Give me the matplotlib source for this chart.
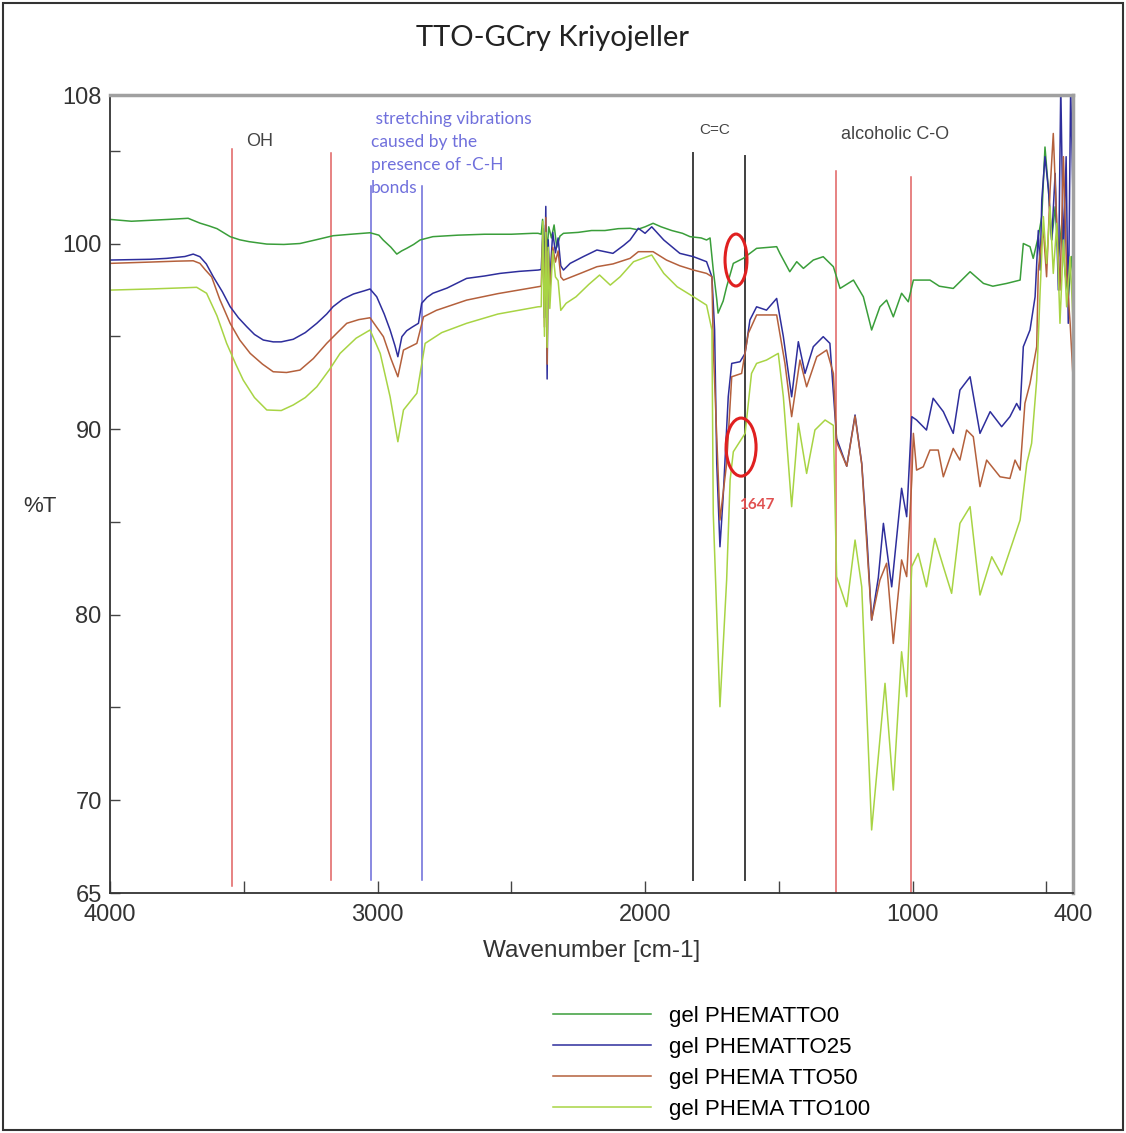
import matplotlib
matplotlib.use("Agg")
import matplotlib.pyplot as plt
from matplotlib.patches import Ellipse, Rectangle

# --- veriler (dalga sayisi cm-1, %T) ---
wn_tto0 = [4000, 3920, 3850, 3780, 3708, 3664, 3630, 3600, 3551, 3515, 3480, 3414, 3350, 3290,
           3230, 3166, 3100, 3028, 2995, 2979, 2950, 2928, 2910, 2891, 2865, 2841, 2793, 2700,
           2600, 2500, 2419, 2400, 2388, 2383, 2378, 2372, 2366, 2360, 2350, 2340, 2330, 2318,
           2305, 2250, 2200, 2150, 2100, 2056, 2030, 2000, 1970, 1940, 1900, 1860, 1832, 1790,
           1770, 1757, 1745, 1732, 1727, 1708, 1695, 1670, 1633, 1583, 1508, 1496, 1459, 1433,
           1408, 1371, 1334, 1296, 1271, 1221, 1184, 1153, 1122, 1097, 1072, 1041, 1016, 997,
           935, 900, 848, 785, 735, 700, 648, 598, 586, 561, 549, 530, 517, 505, 492, 480, 467,
           455, 442, 430, 418, 405, 400]
t_tto0 = [101.3, 101.2, 101.25, 101.3, 101.36, 101.1, 100.95, 100.8, 100.37, 100.2, 100.1, 99.97,
          99.95, 100.0, 100.2, 100.42, 100.5, 100.58, 100.45, 100.19, 99.8, 99.43, 99.6, 99.74,
          99.95, 100.19, 100.37, 100.45, 100.5, 100.5, 100.55, 100.55, 100.5, 101.3, 99.0, 101.0,
          99.6, 100.9, 100.3, 101.0, 99.8, 100.4, 100.55, 100.6, 100.7, 100.7, 100.8, 100.82,
          100.75, 100.9, 101.09, 100.9, 100.7, 100.55, 100.37, 100.3, 100.19, 100.3, 98.57, 97.0,
          96.25, 96.9, 97.67, 98.93, 99.2, 99.74, 99.83, 99.47, 98.48, 99.02, 98.66, 99.11, 99.29,
          98.75, 97.58, 98.03, 97.13, 95.34, 96.59, 96.95, 96.05, 97.32, 96.86, 98.03, 98.03,
          97.7, 97.58, 98.48, 97.85, 97.7, 97.85, 98.03, 100.0, 99.83, 99.2, 100.37, 101.45,
          105.2, 102.88, 100.19, 101.98, 99.29, 101.09, 98.39, 97.13, 99.3, 98.21]

wn_tto25 = [4000, 3850, 3788, 3720, 3689, 3664, 3640, 3614, 3580, 3551, 3520, 3489, 3460, 3427,
            3390, 3360, 3315, 3270, 3227, 3190, 3166, 3130, 3090, 3050, 3028, 3003, 2975, 2953,
            2935, 2924, 2909, 2891, 2870, 2847, 2835, 2815, 2793, 2740, 2667, 2600, 2542, 2470,
            2400, 2388, 2382, 2376, 2371, 2366, 2362, 2356, 2345, 2335, 2325, 2315, 2305, 2280,
            2230, 2180, 2120, 2080, 2056, 2025, 2000, 1975, 1930, 1870, 1819, 1770, 1750, 1740,
            1732, 1720, 1708, 1689, 1676, 1645, 1626, 1608, 1583, 1546, 1508, 1483, 1452, 1427,
            1402, 1371, 1334, 1309, 1284, 1246, 1215, 1190, 1170, 1153, 1128, 1109, 1078, 1041,
            1022, 1003, 985, 948, 923, 885, 848, 823, 785, 748, 710, 667, 636, 611, 598, 586, 561,
            542, 530, 523, 517, 505, 492, 480, 467, 455, 446, 436, 426, 418, 409, 401, 400]
t_tto25 = [99.11, 99.15, 99.2, 99.3, 99.43, 99.29, 98.9, 98.21, 97.4, 96.6, 96.0, 95.52, 95.1,
           94.8, 94.7, 94.7, 94.84, 95.2, 95.7, 96.2, 96.6, 97.0, 97.28, 97.45, 97.55, 97.13,
           96.2, 95.34, 94.5, 93.9, 94.98, 95.3, 95.5, 95.7, 96.78, 97.1, 97.32, 97.6, 98.12,
           98.25, 98.39, 98.5, 98.57, 98.6, 100.8, 96.0, 102.0, 92.7, 100.2, 98.0, 100.6, 99.5,
           100.3, 98.8, 98.57, 98.93, 99.3, 99.65, 99.47, 99.9, 100.19, 100.82, 100.55, 100.9,
           100.19, 99.47, 99.29, 99.02, 98.2, 95.34, 88.15, 83.66, 86.35, 91.74, 93.54, 93.63,
           94.08, 95.88, 96.59, 96.41, 97.04, 94.98, 91.74, 94.71, 93.0, 94.44, 94.98, 94.62,
           89.5, 88.0, 90.76, 88.15, 84.0, 79.71, 82.0, 84.92, 81.5, 86.81, 85.28, 90.67, 90.49,
           89.95, 91.66, 90.94, 89.77, 92.1, 92.82, 89.77, 90.94, 90.13, 90.67, 91.38, 91.03,
           94.44, 95.34, 97.13, 100.7, 98.57, 102.34, 104.68, 102.9, 100.19, 103.78, 97.49,
           108.5, 99.29, 104.68, 95.7, 108.5, 102.88, 103.0]

wn_tto50 = [4000, 3850, 3750, 3689, 3664, 3645, 3620, 3590, 3551, 3515, 3476, 3430, 3390, 3340,
            3290, 3240, 3190, 3150, 3115, 3070, 3028, 2978, 2950, 2924, 2903, 2853, 2828, 2780,
            2667, 2550, 2400, 2388, 2382, 2376, 2371, 2366, 2362, 2356, 2345, 2335, 2325, 2315,
            2305, 2240, 2180, 2120, 2056, 2025, 1970, 1920, 1870, 1819, 1770, 1750, 1745, 1720,
            1695, 1676, 1639, 1614, 1583, 1508, 1477, 1452, 1421, 1396, 1358, 1321, 1296, 1284,
            1246, 1215, 1190, 1153, 1122, 1097, 1072, 1041, 1022, 1003, 997, 985, 960, 935, 904,
            885, 848, 823, 798, 773, 748, 723, 673, 636, 617, 598, 580, 561, 536, 530, 523, 511,
            499, 486, 474, 461, 449, 436, 424, 411, 401, 400]
t_tto50 = [98.93, 99.0, 99.05, 99.07, 98.93, 98.6, 98.2, 97.0, 95.7, 94.8, 94.08, 93.5, 93.09,
           93.05, 93.18, 93.8, 94.62, 95.2, 95.7, 95.9, 96.0, 94.98, 93.8, 92.82, 94.26, 94.62,
           96.05, 96.4, 96.95, 97.3, 97.67, 97.7, 100.5, 95.5, 101.4, 93.5, 99.6, 97.5, 99.8,
           99.0, 99.6, 98.2, 98.03, 98.4, 98.75, 98.9, 99.2, 99.56, 99.56, 99.11, 98.8, 98.57,
           98.39, 98.21, 94.44, 85.1, 88.15, 92.82, 93.0, 95.16, 96.15, 96.15, 93.54, 90.67,
           93.72, 92.28, 93.9, 94.26, 93.0, 89.3, 88.0, 90.7, 88.1, 79.71, 81.87, 82.77, 78.45,
           82.95, 82.05, 87.26, 89.77, 87.79, 87.97, 88.87, 88.87, 87.43, 88.96, 88.33, 89.95,
           89.59, 86.9, 88.33, 87.43, 87.34, 88.33, 87.79, 91.39, 92.46, 94.44, 98.57, 99.5,
           100.73, 98.21, 102.88, 105.93, 101.09, 97.49, 104.68, 98.39, 95.7, 93.0, 93.0]

wn_tto100 = [4000, 3850, 3750, 3676, 3639, 3600, 3564, 3530, 3502, 3460, 3414, 3360, 3315, 3270,
             3227, 3180, 3140, 3080, 3028, 2990, 2953, 2924, 2903, 2853, 2822, 2760, 2667, 2550,
             2400, 2388, 2382, 2376, 2371, 2366, 2362, 2356, 2345, 2335, 2325, 2315, 2295, 2258,
             2210, 2170, 2130, 2093, 2043, 1975, 1930, 1880, 1819, 1770, 1750, 1745, 1720, 1695,
             1682, 1670, 1626, 1602, 1583, 1546, 1502, 1483, 1452, 1427, 1396, 1365, 1327, 1296,
             1284, 1246, 1215, 1190, 1153, 1103, 1072, 1041, 1022, 1003, 979, 948, 917, 885, 854,
             823, 785, 748, 704, 667, 623, 598, 573, 555, 536, 523, 511, 499, 486, 474, 461, 449,
             436, 424, 411, 401, 400]
t_tto100 = [97.49, 97.55, 97.6, 97.64, 97.32, 96.1, 94.62, 93.5, 92.64, 91.7, 91.03, 91.0, 91.3,
            91.7, 92.28, 93.2, 94.08, 94.9, 95.34, 94.08, 91.74, 89.32, 91.03, 91.93, 94.62,
            95.2, 95.7, 96.2, 96.59, 96.6, 101.2, 95.0, 100.6, 94.4, 99.8, 96.5, 99.6, 98.2,
            98.0, 96.4, 96.78, 97.13, 97.8, 98.3, 97.76, 98.21, 99.02, 99.38, 98.39, 97.67, 97.13,
            96.68, 95.34, 85.46, 75.04, 81.87, 87.26, 88.78, 89.77, 93.0, 93.54, 93.72, 94.08,
            91.74, 85.82, 90.31, 87.61, 89.95, 90.49, 90.2, 82.05, 80.43, 84.02, 81.5, 68.4, 76.3,
            70.55, 78.0, 75.58, 82.59, 83.3, 81.5, 84.11, 82.59, 81.15, 84.92, 85.82, 81.06,
            83.12, 82.14, 84.02, 85.1, 88.15, 89.23, 92.64, 97.49, 101.45, 98.93, 101.98, 98.39,
            101.09, 95.7, 100.19, 96.59, 99.29, 96.05, 96.0]

seriler = ["gel PHEMATTO0", "gel PHEMATTO25", "gel PHEMA TTO50", "gel PHEMA TTO100"]
renkler = ["#3a9e3a", "#2e2e9c", "#b4603c", "#a8d444"]

# isaret cizgileri (konum, ust, alt, renk)
cizgi_wn = [3545, 3174, 3024, 2834, 1821, 1626, 1286, 1006]
cizgi_ust = [105.1, 104.9, 103.1, 103.1, 104.9, 104.7, 103.9, 103.6]
cizgi_alt = [65.4, 65.7, 65.7, 65.7, 65.7, 65.7, 65.0, 65.0]
cizgi_renk = ["#e06060", "#e06060", "#6a6ad8", "#6a6ad8", "#404040", "#404040", "#e06060", "#e06060"]

# kirmizi halkalar (merkez wn, merkez %T, genislik, yukseklik)
halka_wn = [1660, 1641]
halka_t = [99.11, 89.03]
halka_g = [82, 112]
halka_y = [2.8, 3.13]

fig = plt.figure(figsize=(11.26, 11.33), dpi=100)
ax = fig.add_axes([0.0977, 0.2118, 0.8553, 0.7043])

# cerceve
fig.patches.append(Rectangle((0.003, 0.003), 0.994, 0.994, transform=fig.transFigure,
                             fill=False, edgecolor="#333333", linewidth=1.5))

for x, u, a, r in zip(cizgi_wn, cizgi_ust, cizgi_alt, cizgi_renk):
    lw = 1.4 if r == "#404040" else 1.1
    ax.plot([x, x], [a, u], color=r, linewidth=lw, zorder=1)

veri = [(wn_tto0, t_tto0), (wn_tto25, t_tto25), (wn_tto50, t_tto50), (wn_tto100, t_tto100)]
cizgiler = []
for (x, y), ad, renk in zip(veri, seriler, renkler):
    ln, = ax.plot(x, y, color=renk, linewidth=1.1, label=ad, zorder=2)
    cizgiler.append(ln)

for x, y, g, h in zip(halka_wn, halka_t, halka_g, halka_y):
    ax.add_patch(Ellipse((x, y), g, h, fill=False, edgecolor="#e02020", linewidth=2.2, zorder=3))

ax.set_xlim(4000, 400)
ax.set_ylim(65, 108)

ax.set_xticks([4000, 3000, 2000, 1000, 400])
ax.set_xticks([3500, 2500, 1500, 500], minor=True)
ax.set_yticks([108, 100, 90, 80, 70, 65])
ax.set_yticks([105, 95, 85, 75], minor=True)
ax.tick_params(axis="x", which="both", direction="in", length=9, width=1, color="#444444",
               labelsize=17, labelcolor="#333333", pad=8)
ax.tick_params(axis="y", which="both", direction="in", length=7, width=1, color="#444444",
               labelsize=17, labelcolor="#333333", pad=6)
for lab in ax.get_xticklabels() + ax.get_yticklabels():
    lab.set_family("Liberation Sans")

for s in ["top", "right"]:
    ax.spines[s].set_color("#a0a0a0")
    ax.spines[s].set_linewidth(2.5)
for s in ["left", "bottom"]:
    ax.spines[s].set_color("#333333")
    ax.spines[s].set_linewidth(1.3)

ax.set_xlabel("Wavenumber [cm-1]", fontsize=17.5, family="Liberation Sans", color="#333333",
              labelpad=10)
ax.set_ylabel("%T", fontsize=16, family="Liberation Sans", color="#333333", rotation=0,
              va="center", ha="center")
ax.yaxis.set_label_coords(-0.073, 0.484)

# aciklamalar
ax.text(3439, 105.52, "OH", fontsize=13, family="Liberation Sans", color="#444444",
        ha="center", va="center")
ax.text(3025, 107.15, " stretching vibrations\ncaused by the\npresence of -C-H\nbonds",
        fontsize=12.5, family="Lato", color="#7070dc", ha="left", va="top", linespacing=1.55)
ax.text(1738, 106.1, "C=C", fontsize=11, family="Liberation Sans", color="#444444",
        ha="center", va="center")
ax.text(1066, 105.9, "alcoholic C-O", fontsize=13, family="Liberation Sans", color="#444444",
        ha="center", va="center")
ax.text(1581, 85.9, "1647", fontsize=11, family="Lato", color="#e05050", weight="bold",
        ha="center", va="center")

fig.text(553 / 1126, 1 - 38 / 1133, "TTO-GCry Kriyojeller", fontsize=21, family="Lato",
         color="#222222", ha="center", va="center")

fig.legend(handles=cizgiler, loc="upper left", bbox_to_anchor=(553 / 1126, 1 - 1006 / 1133),
           frameon=False, prop={"family": "Liberation Sans", "size": 16}, handlelength=4.4,
           handletextpad=0.8, labelspacing=0.45, borderpad=0, borderaxespad=0)

fig.savefig("out.png", dpi=100)
